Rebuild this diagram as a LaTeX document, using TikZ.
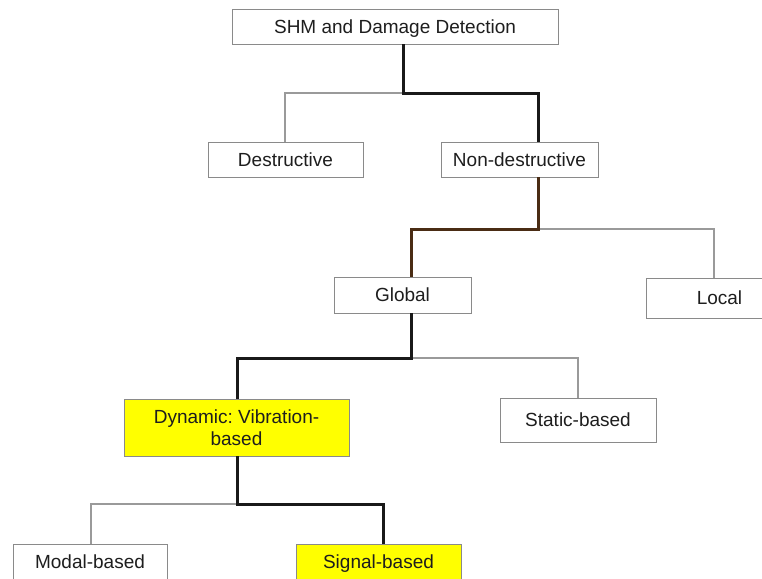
\documentclass[tikz,border=0pt]{standalone}
\usepackage{fontspec}
\setmainfont{Liberation Sans}
\frenchspacing
\definecolor{boxline}{HTML}{8A8A8A}
\definecolor{greyline}{HTML}{9A9A9A}
\definecolor{brownline}{HTML}{4A2C14}
\definecolor{textcol}{HTML}{1E1E1E}
\definecolor{hilite}{HTML}{FFFF00}
\tikzset{
  box/.style={draw=boxline, line width=0.9pt, fill=white, inner sep=0pt, text=textcol,
    font=\fontsize{19}{21.5}\selectfont, align=center, text depth=0pt},
  hbox/.style={box, fill=hilite},
  blk/.style={draw=black!90, line width=3pt},
  brn/.style={draw=brownline, line width=3pt},
  gry/.style={draw=greyline, line width=1.5pt},
}
\begin{document}
\begin{tikzpicture}[x=1pt,y=-1pt]
\useasboundingbox (0,0) rectangle (762,578);
\clip (0,0) rectangle (762,578);
\fill[white] (0,0) rectangle (762,578);

% nodes
\node[box, minimum width=326pt, minimum height=35pt] (top) at (395,26.5) {SHM and Damage Detection};
\node[box, minimum width=155pt, minimum height=35pt] (destr) at (285.5,159.5) {Destructive};
\node[box, minimum width=157pt, minimum height=35pt] (nondes) at (519.5,159.5) {Non-destructive};
\node[box, minimum width=137pt, minimum height=36pt] (global) at (402.5,295) {Global};
\node[box, minimum width=147pt, minimum height=40pt] (local) at (719.5,298) {Local};
\node[hbox, minimum width=225pt, minimum height=57pt, text depth=] (dyn) at (236.5,427.5) {Dynamic: Vibration-\\based};
\node[box, minimum width=156pt, minimum height=44pt] (static) at (578,420) {Static-based};
\node[box, minimum width=154pt, minimum height=36pt] (modal) at (90,562) {Modal-based};
\node[hbox, minimum width=165pt, minimum height=36pt] (signal) at (378.5,562) {Signal-based};

% junction coordinates
\coordinate (j1) at (403,93);
\coordinate (j1r) at (538,93);
\coordinate (j1l) at (285,93);
\coordinate (j2) at (538,229);
\coordinate (j2l) at (411,229);
\coordinate (j2r) at (714,229);
\coordinate (j3) at (411,358);
\coordinate (j3l) at (237,358);
\coordinate (j3r) at (578,358);
\coordinate (j4) at (237,504);
\coordinate (j4r) at (383,504);
\coordinate (j4l) at (91,504);

% connectors
\draw[gry] (j1) -- (j1l) -- (destr.north -| j1l);
\draw[blk] (top.south -| j1) -- (j1) -- (j1r) -- (nondes.north -| j1r);

\draw[gry] (j2) -- (j2r) -- (local.north -| j2r);
\draw[brn] (nondes.south -| j2) -- (j2) -- (j2l) -- (global.north -| j2l);

\draw[gry] (j3) -- (j3r) -- (static.north -| j3r);
\draw[blk] (global.south -| j3) -- (j3) -- (j3l) -- (dyn.north -| j3l);

\draw[gry] (j4) -- (j4l) -- (modal.north -| j4l);
\draw[blk] (dyn.south -| j4) -- (j4) -- (j4r) -- (signal.north -| j4r);
\end{tikzpicture}
\end{document}
